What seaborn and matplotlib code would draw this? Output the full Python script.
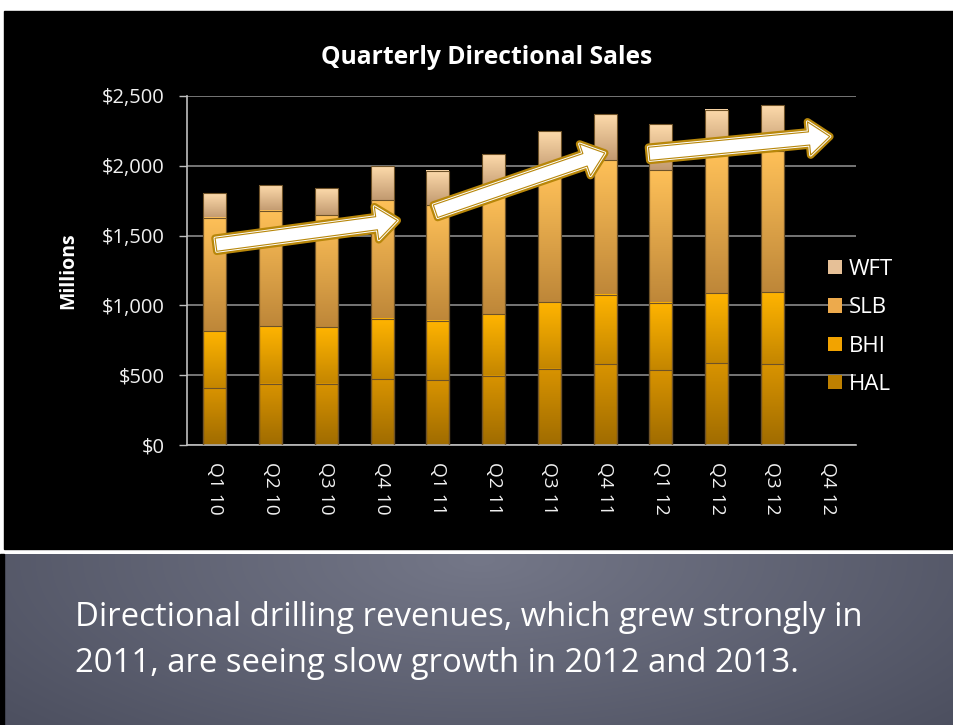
import numpy as np
import pandas as pd
import matplotlib
matplotlib.use("Agg")
import matplotlib.pyplot as plt
import seaborn as sns
import matplotlib.patheffects as pe
from matplotlib.colors import LinearSegmentedColormap
from matplotlib.patches import FancyArrowPatch, Rectangle, Patch

# Quarterly directional drilling sales, $ millions
quarters = ["Q1 10", "Q2 10", "Q3 10", "Q4 10", "Q1 11", "Q2 11",
            "Q3 11", "Q4 11", "Q1 12", "Q2 12", "Q3 12", "Q4 12"]
hal = [408, 437, 437, 470, 463, 496, 547, 580, 537, 587, 580, np.nan]
bhi = [406, 415, 408, 435, 427, 444, 477, 496, 480, 501, 515, np.nan]
slb = [814, 826, 802, 852, 826, 870, 916, 965, 952, 992, 1010, np.nan]
wft = [174, 186, 191, 238, 250, 271, 306, 327, 327, 323, 327, np.nan]
companies = ["WFT", "SLB", "BHI", "HAL"]

# trend arrows: (start quarter idx, start $), (end quarter idx, end $)
trend_start = [(-0.03, 1432), (3.91, 1668), (7.74, 2084)]
trend_end = [(3.32, 1611), (7.04, 2098), (11.08, 2212)]

# gradient (top, bottom) per segment
shades = {
    "WFT": ("#FDDAAB", "#C29A70"),
    "SLB": ("#FEC058", "#BE8739"),
    "BHI": ("#FFB400", "#C48600"),
    "HAL": ("#D89300", "#A06C00"),
}
legend_cols = {"WFT": "#E6C097", "SLB": "#EDAA4C", "BHI": "#F2A300", "HAL": "#BE8000"}
GOLD = "#B8870A"

df = pd.DataFrame({"quarter": quarters, "HAL": hal, "BHI": bhi, "SLB": slb, "WFT": wft})
df["cHAL"] = df["HAL"]
df["cBHI"] = df["cHAL"] + df["BHI"]
df["cSLB"] = df["cBHI"] + df["SLB"]
df["cWFT"] = df["cSLB"] + df["WFT"]

sns.set_theme(style="dark")
plt.rcParams["font.family"] = ["Open Sans", "DejaVu Sans"]

fig = plt.figure(figsize=(9.54, 7.25), dpi=100, facecolor="white")

# slide background
bg = fig.add_axes([0, 0, 1, 1])
bg.axis("off")
bg.add_patch(Rectangle((4, 11), 950, 538, color="black", zorder=0))
yy, xx = np.mgrid[0:171, 0:950]
d = np.clip(np.sqrt(((xx - 475) / 650.0) ** 2 + ((yy - 5) / 260.0) ** 2), 0, 1)
c_mid = np.array([0x74, 0x77, 0x88]) / 255.0
c_edge = np.array([0x4B, 0x4E, 0x5E]) / 255.0
panel = c_mid + (c_edge - c_mid) * d[..., None]
bg.imshow(panel, extent=(4, 954, 725, 554), aspect="auto", zorder=1)
bg.add_patch(Rectangle((0, 554), 4, 171, color="black", zorder=1))
bg.set_xlim(0, 954)
bg.set_ylim(725, 0)

bg.text(75, 618, "Directional drilling revenues, which grew strongly in",
        color="white", fontsize=23.7, ha="left", va="center")
bg.text(75, 663, "2011, are seeing slow growth in 2012 and 2013.",
        color="white", fontsize=23.7, ha="left", va="center")

# chart
ax = fig.add_axes([187 / 954, 280 / 725, 669 / 954, 349 / 725])
ax.set_facecolor("none")

grad = np.linspace(0, 1, 64).reshape(-1, 1)
lower = {"WFT": "cSLB", "SLB": "cBHI", "BHI": "cHAL", "HAL": None}
for comp in companies:
    n0 = len(ax.patches)
    sns.barplot(data=df, x="quarter", y="c" + comp, order=quarters, color=legend_cols[comp],
                width=0.41, ax=ax, zorder=2, saturation=1)
    cmap = LinearSegmentedColormap.from_list(comp, [shades[comp][1], shades[comp][0]])
    for p in ax.patches[n0:]:
        h = p.get_height()
        if not np.isfinite(h) or h <= 0:
            continue
        i = int(round(p.get_x() + p.get_width() / 2))
        lo = 0 if lower[comp] is None else df[lower[comp]].iloc[i]
        ax.imshow(grad, cmap=cmap, origin="lower", aspect="auto", zorder=2.5,
                  extent=(p.get_x(), p.get_x() + p.get_width(), lo, h))
        p.set_facecolor("none")
        p.set_edgecolor("#6E5228")
        p.set_linewidth(0.8)
        p.set_zorder(3)

ax.set_xlim(-0.5, len(quarters) - 0.5)
ax.set_ylim(0, 2500)
ax.set_yticks(range(0, 2501, 500))
ax.set_yticklabels([f"${v:,}" for v in range(0, 2501, 500)])
ax.yaxis.grid(True, color="#7F7F7F", lw=1.3)
ax.xaxis.grid(False)
ax.set_axisbelow(True)
for s in ["top", "right"]:
    ax.spines[s].set_visible(False)
for s in ["left", "bottom"]:
    ax.spines[s].set_color("#BFBFBF")
    ax.spines[s].set_linewidth(1.2)

ax.set_xticks(range(len(quarters)))
ax.set_xticklabels(quarters, rotation=270, va="top", ha="center")
ax.set_xticks(np.arange(-0.5, len(quarters), 1), minor=True)
ax.tick_params(axis="x", which="major", length=0, pad=12, labelsize=13.8, labelcolor="#F0F0F0")
ax.tick_params(axis="x", which="minor", length=6, width=1, color="#BFBFBF", direction="out")
ax.tick_params(axis="y", length=6, width=1, color="#BFBFBF", direction="out", pad=10,
               labelsize=14.5, labelcolor="#F0F0F0", left=True)
ax.set_xlabel("")
ax.set_ylabel("Millions", color="white", fontsize=14, fontweight="bold")
ax.yaxis.set_label_coords(-(187 - 78) / 669, 0.5)

# trend arrows
for (x0, y0), (x1, y1) in zip(trend_start, trend_end):
    arr = FancyArrowPatch((x0, y0), (x1, y1),
                          arrowstyle="simple,head_length=1.5,head_width=2.4,tail_width=0.95",
                          mutation_scale=10, facecolor="white", edgecolor=GOLD, lw=0.8,
                          zorder=6, clip_on=False)
    arr.set_path_effects([pe.Stroke(linewidth=5.5, foreground=GOLD),
                          pe.Stroke(linewidth=2.2, foreground="white"),
                          pe.Normal()])
    ax.add_patch(arr)

fig.text(487 / 954, 1 - 57 / 725, "Quarterly Directional Sales", color="white",
         fontsize=17.7, fontweight="bold", ha="center", va="center")

handles = [Patch(facecolor=legend_cols[c], edgecolor="none") for c in companies]
fig.legend(handles, companies, loc="upper left", bbox_to_anchor=(828 / 954, 1 - 259 / 725),
           frameon=False, labelcolor="white", fontsize=16, handlelength=0.63,
           handleheight=0.63, handletextpad=0.3, labelspacing=0.78,
           borderpad=0, borderaxespad=0)

fig.savefig("out.png", dpi=100, facecolor="white")
